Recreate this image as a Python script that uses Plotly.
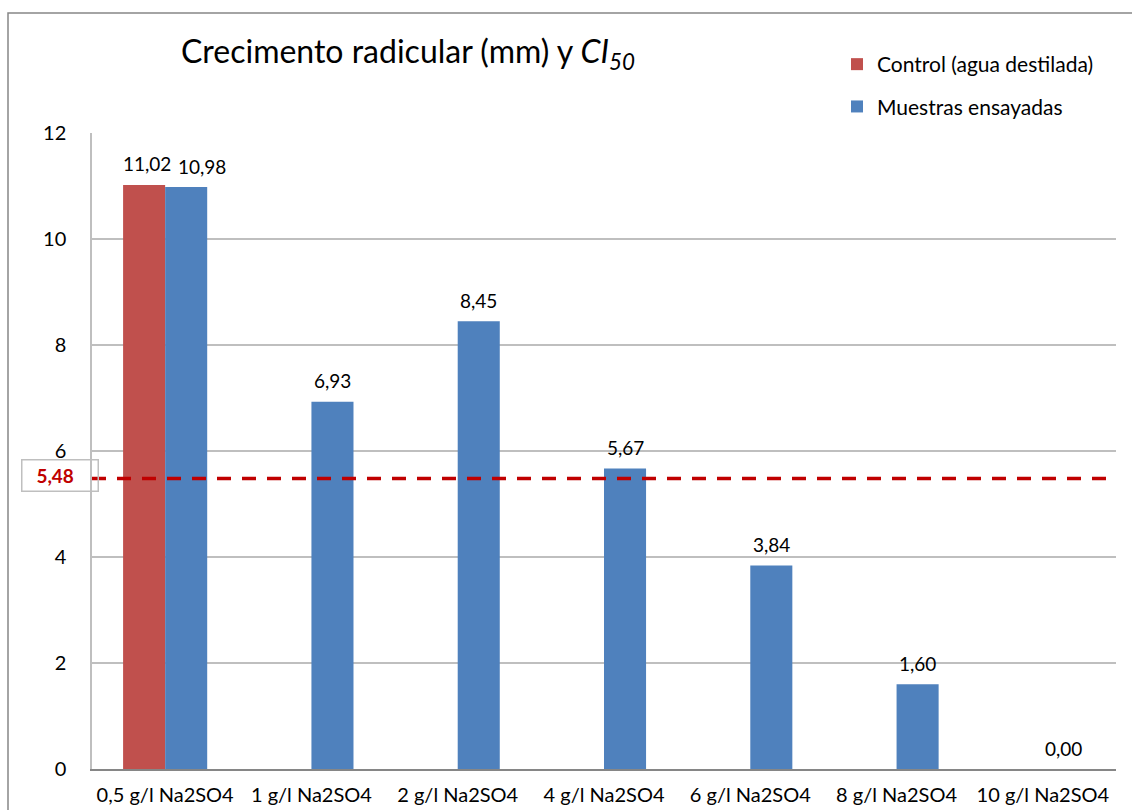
import plotly.graph_objects as go

categories = ["0,5 g/l Na2SO4", "1 g/l Na2SO4", "2 g/l Na2SO4", "4 g/l Na2SO4",
              "6 g/l Na2SO4", "8 g/l Na2SO4", "10 g/l Na2SO4"]
control_values = [11.02, None, None, None, None, None, None]
sample_values = [10.98, 6.93, 8.45, 5.67, 3.84, 1.60, 0.00]
ci50 = 5.48
y_ticks = [0, 2, 4, 6, 8, 10, 12]

FONT = "Lato, Carlito, Calibri, sans-serif"
RED = "#C0504D"
BLUE = "#4F81BD"
BAR_PX = 42  # width of one bar in pixels, used to centre labels on grouped bars


def fmt(v):
    return f"{v:.2f}".replace(".", ",")


fig = go.Figure()
fig.add_trace(go.Bar(
    x=categories, y=control_values, name="Control (agua destilada)",
    marker=dict(color=RED, line=dict(width=0)), legendgroup="c",
))
fig.add_trace(go.Bar(
    x=categories, y=sample_values, name="Muestras ensayadas",
    marker=dict(color=BLUE, line=dict(width=0)), legendgroup="m",
))

# value labels above each bar
for i, (c, v) in enumerate(zip(categories, control_values)):
    if v is None:
        continue
    fig.add_annotation(x=c, y=v, xref="x", yref="y", text=fmt(v), showarrow=False,
                       xshift=-BAR_PX / 2 + 3, yshift=21, yanchor="middle",
                       font=dict(family=FONT, size=19, color="#000000"))
for i, (c, v) in enumerate(zip(categories, sample_values)):
    shift = BAR_PX / 2 + (16 if control_values[i] is not None else 0)
    fig.add_annotation(x=c, y=v, xref="x", yref="y", text=fmt(v), showarrow=False,
                       xshift=shift, yshift=21, yanchor="middle",
                       font=dict(family=FONT, size=19, color="#000000"))

# CI50 reference line across the plot area
fig.add_shape(type="line", xref="paper", yref="y", x0=0, x1=1, y0=ci50, y1=ci50,
              line=dict(color="#C00000", width=3.5, dash="14px,11px"))
fig.add_annotation(xref="paper", yref="y", x=-71 / 1024, y=ci50, yshift=3,
                   xanchor="left", yanchor="middle", showarrow=False,
                   text="<b>" + fmt(ci50) + "</b>" + "\u00a0\u00a0",
                   font=dict(family=FONT, size=19, color="#C00000"),
                   width=73, height=28, align="center", bordercolor="#BFBFBF",
                   borderwidth=1.5, bgcolor="rgba(0,0,0,0)")

# outer chart frame
fig.add_shape(type="rect", xref="paper", yref="paper",
              x0=-84 / 1024, x1=1.2, y0=-0.5, y1=(769 - 13) / 636,
              line=dict(color="#868686", width=1.5), layer="below")

fig.update_layout(
    width=1132, height=810,
    margin=dict(l=92, r=16, t=133, b=41, pad=0),
    paper_bgcolor="white", plot_bgcolor="white",
    font=dict(family=FONT, size=20, color="#000000"),
    barmode="group", bargap=0.425, bargroupgap=0,
    title=dict(text="Crecimento radicular (mm) y <i>CI<sub>50</sub></i>",
               font=dict(family=FONT, size=32, color="#000000"),
               xref="container", yref="container", x=181 / 1132, xanchor="left",
               y=1 - 52 / 810, yanchor="middle"),
    legend=dict(x=(837 - 92) / 1024, xanchor="left", y=(769 - 44) / 636, yanchor="top",
                font=dict(family=FONT, size=21, color="#000000"),
                bgcolor="rgba(0,0,0,0)", traceorder="grouped", tracegroupgap=12,
                itemwidth=30),
    showlegend=True,
    xaxis=dict(showline=True, linecolor="#868686", linewidth=1.5, ticks="",
               tickfont=dict(size=20), ticklabelstandoff=7, showgrid=False,
               automargin=False),
    yaxis=dict(range=[0, 12], tickvals=y_ticks, showline=True, linecolor="#BFBFBF",
               linewidth=1.5, gridcolor="#BFBFBF", gridwidth=1.5, zeroline=False,
               ticks="", tickfont=dict(size=20), ticklabelstandoff=20,
               automargin=False),
)

fig.write_html("out.html")
